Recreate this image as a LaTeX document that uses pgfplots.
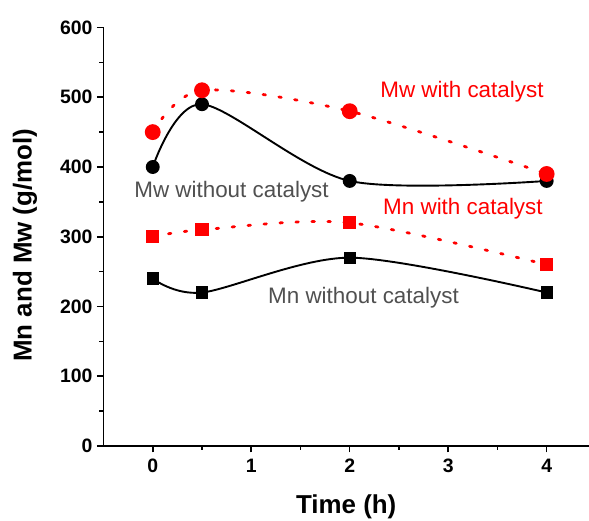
\documentclass[border=0pt]{standalone}
\usepackage{pgfplots}
\pgfplotsset{compat=1.18}
\usepackage{fontspec}
\setmainfont{Liberation Sans}
\definecolor{lblgray}{HTML}{505050}
\begin{document}
\begin{tikzpicture}[x=1bp,y=1bp]
\begin{axis}[
  name=ax,
  scale only axis,
  width=485.5bp, height=418.5bp,
  xmin=-0.5, xmax=4.43,
  ymin=0, ymax=600,
  axis x line*=bottom, axis y line*=left,
  axis line style={-, line width=1.6bp},
  xtick={0,1,2,3,4},
  ytick={0,100,200,300,400,500,600},
  minor xtick={0.5,1.5,2.5,3.5},
  minor ytick={50,150,250,350,450,550},
  tick align=outside,
  major tick length=6.5bp, minor tick length=4bp,
  every tick/.style={black, line width=1.6bp},
  tick label style={font=\fontsize{19.5}{22}\selectfont\bfseries},
  yticklabel style={xshift=-1bp},
  xticklabel style={yshift=-3bp},
  /pgf/number format/assume math mode=true,
  xlabel={Time (h)}, ylabel={Mn and Mw (g/mol)},
  label style={font=\fontsize{26}{30}\selectfont\bfseries},
  xlabel style={at={(rel axis cs:0.5,0)}, anchor=center, yshift=-61bp},
  ylabel style={at={(rel axis cs:0,0.5)}, anchor=center, yshift=78.5bp, xshift=-8.5bp},
  clip=false,
]
\addplot[black, line width=1.9bp, smooth, mark=*, mark size=6bp, mark options={solid}] coordinates {(0,400) (0.5,490) (2,380) (4,380)};
\addplot[red, line width=2.8bp, smooth, dash pattern=on 2.5bp off 13.5bp, line cap=round, mark=*, mark size=6.5bp, mark options={solid}] coordinates {(0,450) (0.5,510) (2,480) (4,390)};
\addplot[red, line width=2.8bp, smooth, dash pattern=on 2.5bp off 13.5bp, line cap=round, mark=square*, mark size=5.2bp, mark options={solid}] coordinates {(0,300) (0.5,310) (2,320) (4,260)};
\addplot[black, line width=1.9bp, smooth, mark=square*, mark size=5.2bp, mark options={solid}] coordinates {(0,240) (0.5,220) (2,270) (4,220)};
\node[lblgray, font=\fontsize{22.5}{26}\selectfont] at (axis cs:0.80,364) {Mw without catalyst};
\node[red, font=\fontsize{22.5}{26}\selectfont] at (axis cs:3.14,508) {Mw with catalyst};
\node[red, font=\fontsize{22.5}{26}\selectfont] at (axis cs:3.15,340) {Mn with catalyst};
\node[lblgray, font=\fontsize{22.5}{26}\selectfont] at (axis cs:2.14,212) {Mn without catalyst};
\end{axis}
\pgfresetboundingbox
\useasboundingbox ([shift={(-103.5bp,-75bp)}]ax.south west) rectangle ([shift={(0bp,27.5bp)}]ax.north east);
\end{tikzpicture}
\end{document}
